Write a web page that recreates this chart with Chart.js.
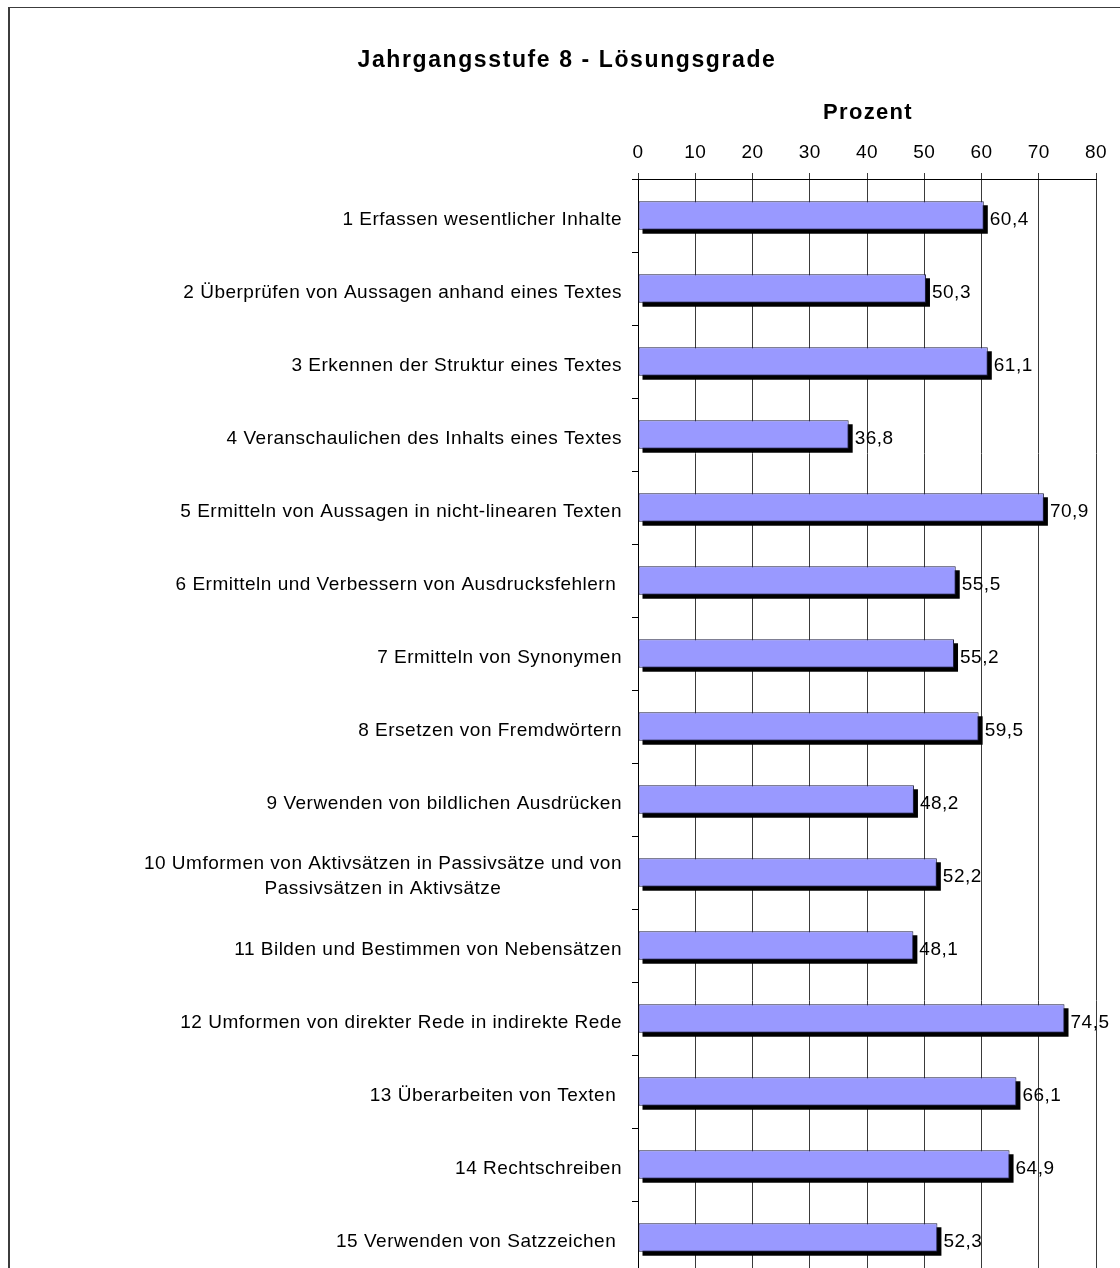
<!DOCTYPE html>
<html lang="de">
<head>
<meta charset="utf-8">
<title>Jahrgangsstufe 8 - Lösungsgrade</title>
<script src="https://cdn.jsdelivr.net/npm/chart.js@4/dist/chart.umd.min.js"></script>
<style>
  html, body { margin: 0; padding: 0; background: #fff; overflow: hidden; }
  #wrap { position: relative; width: 1120px; height: 1268px; overflow: hidden; }
  canvas { display: block; }
</style>
</head>
<body>
<div id="wrap"><canvas id="chart" width="1120" height="1280"></canvas></div>
<script>
// Kompetenzbereiche (Kategorien), ein Eintrag je Balken; Zeilenumbruch als Array
const categories = [
  '1 Erfassen wesentlicher Inhalte',
  '2 Überprüfen von Aussagen anhand eines Textes',
  '3 Erkennen der Struktur eines Textes',
  '4 Veranschaulichen des Inhalts eines Textes',
  '5 Ermitteln von Aussagen in nicht-linearen Texten',
  '6 Ermitteln und Verbessern von Ausdrucksfehlern ',
  '7 Ermitteln von Synonymen',
  '8 Ersetzen von Fremdwörtern',
  '9 Verwenden von bildlichen Ausdrücken',
  ['10 Umformen von Aktivsätzen in Passivsätze und von', 'Passivsätzen in Aktivsätze'],
  '11 Bilden und Bestimmen von Nebensätzen',
  '12 Umformen von direkter Rede in indirekte Rede',
  '13 Überarbeiten von Texten ',
  '14 Rechtschreiben',
  '15 Verwenden von Satzzeichen '
];

// Lösungsgrade in Prozent
const loesungsgrade = [60.4, 50.3, 61.1, 36.8, 70.9, 55.5, 55.2, 59.5, 48.2, 52.2, 48.1, 74.5, 66.1, 64.9, 52.3];

// Prozentachse
const axisMin = 0;
const axisMax = 80;
const axisStep = 10;

const chartTitle = 'Jahrgangsstufe 8 - Lösungsgrade';
const axisTitle = 'Prozent';

const FONT = '"Liberation Sans", Arial, Helvetica, sans-serif';
const TEXT_SIZE = 19;
const TEXT_SPACING = '0.5px';
const fmt = v => v.toFixed(1).replace('.', ',');

// Rahmen um das Diagramm (links und oben sichtbar)
const framePlugin = {
  id: 'frame',
  beforeDraw(chart) {
    const ctx = chart.ctx;
    ctx.letterSpacing = TEXT_SPACING;
    ctx.save();
    ctx.fillStyle = '#3c3c3c';
    ctx.fillRect(8, 7, 2, chart.height);
    ctx.fillRect(8, 7, chart.width, 1);
    ctx.restore();
  }
};

// Schlagschatten hinter den Balken
const shadowPlugin = {
  id: 'barShadow',
  beforeDatasetsDraw(chart) {
    const ctx = chart.ctx;
    ctx.save();
    ctx.fillStyle = '#000';
    chart.getDatasetMeta(0).data.forEach(bar => {
      const p = bar.getProps(['x', 'y', 'base', 'height'], true);
      ctx.fillRect(p.base + 4, p.y - p.height / 2 + 4, p.x - p.base, p.height);
    });
    ctx.restore();
  }
};

// Werte rechts neben den Balken, Kategorienamen links der Achse, Titel
const textPlugin = {
  id: 'texts',
  afterDraw(chart) {
    const ctx = chart.ctx;
    const area = chart.chartArea;
    const yScale = chart.scales.y;
    ctx.save();
    ctx.fillStyle = '#000';

    // Wertebeschriftung
    ctx.font = TEXT_SIZE + 'px ' + FONT;
    ctx.letterSpacing = TEXT_SPACING;
    ctx.textAlign = 'left';
    ctx.textBaseline = 'alphabetic';
    const meta = chart.getDatasetMeta(0);
    meta.data.forEach((bar, i) => {
      const p = bar.getProps(['x', 'y'], true);
      ctx.fillText(fmt(chart.data.datasets[0].data[i]), p.x + 6, p.y + 9);
    });

    // Kategorienamen
    const right = area.left - 16;
    const lineH = 25;
    categories.forEach((cat, i) => {
      const lines = Array.isArray(cat) ? cat : [cat];
      const yc = yScale.getPixelForValue(i);
      const widths = lines.map(l => ctx.measureText(l).width);
      const maxW = Math.max(...widths);
      ctx.textAlign = 'center';
      lines.forEach((l, k) => {
        const y = yc + 9 + (k - (lines.length - 1) / 2) * lineH;
        ctx.fillText(l, right - maxW / 2, y);
      });
    });

    // Achsentitel
    ctx.font = 'bold 22px ' + FONT;
    ctx.letterSpacing = '1.3px';
    ctx.textAlign = 'center';
    ctx.fillText(axisTitle, (area.left + area.right) / 2 + 1, 119);

    // Diagrammtitel
    ctx.font = 'bold 23px ' + FONT;
    ctx.letterSpacing = '1.6px';
    ctx.fillText(chartTitle, 567, 67);
    ctx.restore();
  }
};

new Chart(document.getElementById('chart'), {
  type: 'bar',
  data: {
    labels: categories,
    datasets: [{
      data: loesungsgrade,
      backgroundColor: '#9999ff',
      borderColor: '#1e1e40',
      borderWidth: 1,
      borderSkipped: false,
      barPercentage: 0.39,
      categoryPercentage: 1
    }]
  },
  options: {
    indexAxis: 'y',
    responsive: false,
    animation: false,
    devicePixelRatio: 1,
    layout: { padding: { left: 0, top: 0, right: 24, bottom: 6 } },
    plugins: {
      legend: { display: false },
      title: { display: false },
      tooltip: { enabled: false }
    },
    scales: {
      x: {
        position: 'top',
        min: axisMin,
        max: axisMax,
        ticks: {
          stepSize: axisStep,
          color: '#000',
          font: { family: FONT, size: TEXT_SIZE },
          padding: 9
        },
        grid: {
          color: '#3a3a3a',
          lineWidth: 1,
          tickLength: 6,
          drawTicks: true
        },
        border: { display: true, color: '#000', width: 1 },
        afterFit(scale) { scale.height = 179; }
      },
      y: {
        position: 'left',
        ticks: { display: false },
        grid: {
          offset: true,
          drawOnChartArea: false,
          drawTicks: true,
          tickLength: 6,
          color: '#000'
        },
        border: { display: true, color: '#000', width: 1 },
        afterFit(scale) { scale.width = 638; }
      }
    }
  },
  plugins: [framePlugin, shadowPlugin, textPlugin]
});
</script>
</body>
</html>
